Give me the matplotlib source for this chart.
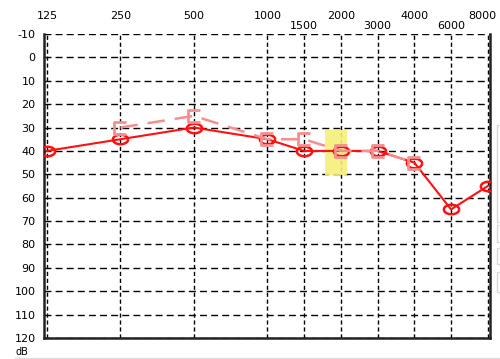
import matplotlib
matplotlib.use("Agg")
import matplotlib.pyplot as plt
import numpy as np
from matplotlib.patches import Rectangle
from matplotlib.path import Path

freq_labels = ["125", "250", "500", "1000", "1500", "2000", "3000", "4000", "6000", "8000"]
freq_pos = [0, 1, 2, 3, 3.5, 4, 4.5, 5, 5.5, 6]
y_ticks = list(range(-10, 130, 10))

# Air conduction (red circles)
ac_freqs = ["125", "250", "500", "1000", "1500", "2000", "3000", "4000", "6000", "8000"]
ac_db = [40, 35, 30, 35, 40, 40, 40, 45, 65, 55]

# Bone conduction (pink brackets)
bc_freqs = ["250", "500", "1000", "1500", "2000", "3000", "4000"]
bc_db = [30, 25, 35, 35, 40, 40, 45]

pos = dict(zip(freq_labels, freq_pos))

# custom markers
t = np.linspace(0, 2 * np.pi, 40)
ellipse = Path(np.column_stack([np.cos(t), 0.62 * np.sin(t)]))
bracket = Path([(0.8, 0.8), (-0.8, 0.8), (-0.8, -0.8), (0.8, -0.8)],
               [Path.MOVETO, Path.LINETO, Path.LINETO, Path.LINETO])

fig = plt.figure(figsize=(5.0, 3.59), dpi=100)
ax = fig.add_axes([44/500, 1-338/359, (490-44)/500, (338-34)/359])
ax.set_xlim(-0.04, 6.03)
ax.set_ylim(120, -10)

# grid
for p in freq_pos:
    ax.axvline(p, color="black", lw=1.0, ls=(0, (3, 2)), zorder=1)
for y in y_ticks:
    ax.axhline(y, color="black", lw=1.0, ls=(0, (5, 3)), zorder=1)

# highlight
ax.add_patch(Rectangle((3.78, 31), 0.31, 19.5, facecolor="#f5f07a", edgecolor="none", alpha=0.9, zorder=2))

ax.plot([pos[f] for f in ac_freqs], ac_db, color="#ff1010", lw=1.5, marker=ellipse,
        ms=11, mfc="none", mec="#ff1010", mew=1.8, zorder=4)
ax.plot([pos[f] for f in bc_freqs], bc_db, color="#f58e8e", lw=1.8, ls=(0, (7, 4)),
        marker=bracket, ms=9, mfc="none", mec="#f58e8e", mew=2.0, zorder=5)

ax.spines["top"].set_visible(False)
for s in ["left", "bottom", "right"]:
    ax.spines[s].set_linewidth(1.8)
    ax.spines[s].set_color("#222222")

ax.set_yticks(y_ticks)
ax.set_yticklabels([str(v) for v in y_ticks], fontsize=8, family="DejaVu Sans")
ax.tick_params(axis="y", length=0, pad=6)
ax.set_xticks([])

for lab, p in zip(freq_labels, freq_pos):
    half = lab in ("1500", "3000", "6000")
    x = p if lab != "8000" else 5.93
    ax.text(x, -17.8 if not half else -13.3, lab, ha="center", va="center",
            fontsize=8, clip_on=False)

fig.text(16/500, 1-352/359, "dB", fontsize=7, ha="left", va="center")

# faint UI elements at the edges
fig.add_artist(Rectangle((497/500, 1-222/359), 0.02, 97/359, transform=fig.transFigure,
                         facecolor="white", edgecolor="#d8d8d8", lw=1.0))
for y0, y1 in [(225, 242), (248, 264), (272, 292)]:
    fig.add_artist(Rectangle((497/500, 1-y1/359), 0.02, (y1-y0)/359, transform=fig.transFigure,
                             facecolor="white", edgecolor="#d8d8d8", lw=1.0))
fig.add_artist(plt.Line2D([0.03, 1], [1-357.5/359, 1-357.5/359], transform=fig.transFigure,
                          color="#e0e0e0", lw=1.0))

fig.savefig("out.png", dpi=100, facecolor="white")
